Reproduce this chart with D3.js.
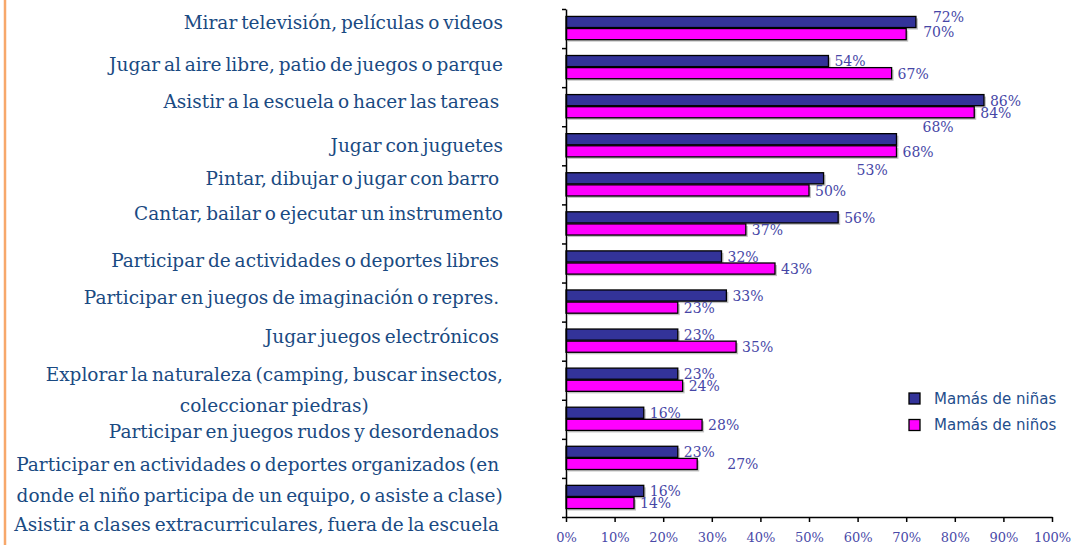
<!DOCTYPE html>
<html>
<head>
<meta charset="utf-8">
<script src="https://cdn.jsdelivr.net/npm/d3@7"></script>
<style>
body { margin: 0; background: #fff; }
svg { display: block; }
.cat { font-family: "DejaVu Serif", serif; font-size: 18.5px; word-spacing: -2px; fill: #1a4a82; white-space: pre; }
.val { font-family: "DejaVu Serif", serif; font-size: 14px; fill: #4646a6; }
.axis text { font-family: "DejaVu Serif", serif; font-size: 13px; fill: #4a4aa8; }
.axis path, .axis line { stroke: #000; stroke-width: 1.5; }
.legend text { font-family: "DejaVu Sans", sans-serif; font-size: 15px; fill: #1f4e8c; }
</style>
</head>
<body>
<svg></svg>
<script>
var categories = [
    "Mirar televisión, películas o videos",
    "Jugar al aire libre, patio de juegos o parque",
    "Asistir a la escuela o hacer las tareas ",
    "Jugar con juguetes",
    "Pintar, dibujar o jugar con barro ",
    "Cantar, bailar o ejecutar un instrumento",
    "Participar de actividades o deportes libres ",
    "Participar en juegos de imaginación o repres. ",
    "Jugar juegos electrónicos ",
    "Explorar la naturaleza (camping, buscar insectos,\ncoleccionar piedras)",
    "Participar en juegos rudos y desordenados ",
    "Participar en actividades o deportes organizados (en \ndonde el niño participa de un equipo, o asiste a clase)",
    "Asistir a clases extracurriculares, fuera de la escuela "
];
var ninas = [72, 54, 86, 68, 53, 56, 32, 33, 23, 23, 16, 23, 16];
var ninos = [70, 67, 84, 68, 50, 37, 43, 23, 35, 24, 28, 27, 14];
var seriesNames = ["Mamás de niñas", "Mamás de niños"];
var xTicks = [0, 10, 20, 30, 40, 50, 60, 70, 80, 90, 100];

var colors = ["#333399", "#ff00ff"];

// layout tweaks (the category labels sit in a separate text box in the original)
var catShift = [-6, -3, -5, 0, -6, -10, -2, -5, -5, 10, 12, 22, 27];
var lineHeight = 31;
var valueNudge = { "0-0": [11, -5], "0-1": [11, -2], "3-0": [20, -13], "4-0": [27, -9], "11-1": [24, 0] };

var W = 1073, H = 545;
var plot = { left: 566, right: 1052, top: 9, bottom: 517 };
var labelRight = 503;

var svg = d3.select("svg")
    .attr("width", W)
    .attr("height", H);

// orange rule at the left edge
svg.append("line")
    .attr("x1", 5).attr("x2", 5)
    .attr("y1", 0).attr("y2", H)
    .style("stroke", "#f7a86b")
    .style("stroke-width", 2.5);

var x = d3.scaleLinear()
    .domain([0, 100])
    .range([plot.left, plot.right]);

var y = d3.scaleBand()
    .domain(d3.range(categories.length))
    .range([plot.top, plot.bottom])
    .paddingInner(0.38)
    .paddingOuter(0.19);

var y1 = d3.scaleBand()
    .domain([0, 1])
    .range([0, y.bandwidth()]);

var yTickScale = d3.scaleLinear()
    .domain([0, categories.length])
    .range([plot.top, plot.bottom]);

var rows = categories.map(function(c, i) {
    return { i: i, name: c, values: [ninas[i], ninos[i]] };
});

function cells(d) {
    return d.values.map(function(v, s) { return { v: v, s: s, i: d.i }; });
}

// bars
var group = svg.selectAll(".row")
    .data(rows)
    .enter().append("g")
    .attr("class", "row")
    .attr("transform", function(d) { return "translate(0," + y(d.i) + ")"; });

group.selectAll(".shadow")
    .data(cells)
    .enter().append("rect")
    .attr("class", "shadow")
    .attr("x", x(0) + 2)
    .attr("y", function(d) { return y1(d.s) + 2; })
    .attr("width", function(d) { return x(d.v) - x(0); })
    .attr("height", y1.bandwidth() - 1)
    .style("fill", "#9a9a9a")
    .style("opacity", 0.6);

group.selectAll(".bar")
    .data(cells)
    .enter().append("rect")
    .attr("class", "bar")
    .attr("x", x(0))
    .attr("y", function(d) { return y1(d.s); })
    .attr("width", function(d) { return x(d.v) - x(0); })
    .attr("height", y1.bandwidth() - 1)
    .style("fill", function(d) { return colors[d.s]; })
    .style("stroke", "#000")
    .style("stroke-width", 1.3);

group.selectAll(".val")
    .data(cells)
    .enter().append("text")
    .attr("class", "val")
    .attr("x", function(d) {
        var n = valueNudge[d.i + "-" + d.s];
        return x(d.v) + 6 + (n ? n[0] : 0);
    })
    .attr("y", function(d) {
        var n = valueNudge[d.i + "-" + d.s];
        return y1(d.s) + y1.bandwidth() / 2 + (n ? n[1] : 0);
    })
    .attr("dy", "0.35em")
    .text(function(d) { return d.v + "%"; });

// axes
svg.append("g")
    .attr("class", "axis")
    .attr("transform", "translate(" + plot.left + ",0)")
    .call(d3.axisLeft(yTickScale)
        .ticks(categories.length)
        .tickFormat("")
        .tickSize(4)
        .tickSizeOuter(0));

svg.append("g")
    .attr("class", "axis")
    .attr("transform", "translate(0," + plot.bottom + ")")
    .call(d3.axisBottom(x)
        .tickValues(xTicks)
        .tickFormat(function(d) { return d + "%"; })
        .tickSize(5)
        .tickSizeOuter(0)
        .tickPadding(11));

// category labels
rows.forEach(function(d) {
    var lines = d.name.split("\n");
    var cy = y(d.i) + y.bandwidth() / 2 + catShift[d.i] - (lines.length - 1) * lineHeight / 2;
    var first = svg.append("text")
        .attr("class", "cat")
        .attr("x", labelRight)
        .attr("y", cy)
        .attr("dy", "0.35em")
        .style("text-anchor", "end")
        .text(lines[0]);
    var w = first.node().getComputedTextLength();
    for (var k = 1; k < lines.length; k++) {
        svg.append("text")
            .attr("class", "cat")
            .attr("x", labelRight - w / 2)
            .attr("y", cy + k * lineHeight)
            .attr("dy", "0.35em")
            .style("text-anchor", "middle")
            .text(lines[k]);
    }
});

// legend
var legend = svg.append("g")
    .attr("class", "legend")
    .attr("transform", "translate(909,393)");

seriesNames.forEach(function(name, s) {
    legend.append("rect")
        .attr("x", 0)
        .attr("y", s * 26.5)
        .attr("width", 11)
        .attr("height", 11)
        .style("fill", colors[s])
        .style("stroke", "#000")
        .style("stroke-width", 1.3);
    legend.append("text")
        .attr("x", 25)
        .attr("y", s * 26.5 + 5.5)
        .attr("dy", "0.35em")
        .text(name);
});
</script>
</body>
</html>
